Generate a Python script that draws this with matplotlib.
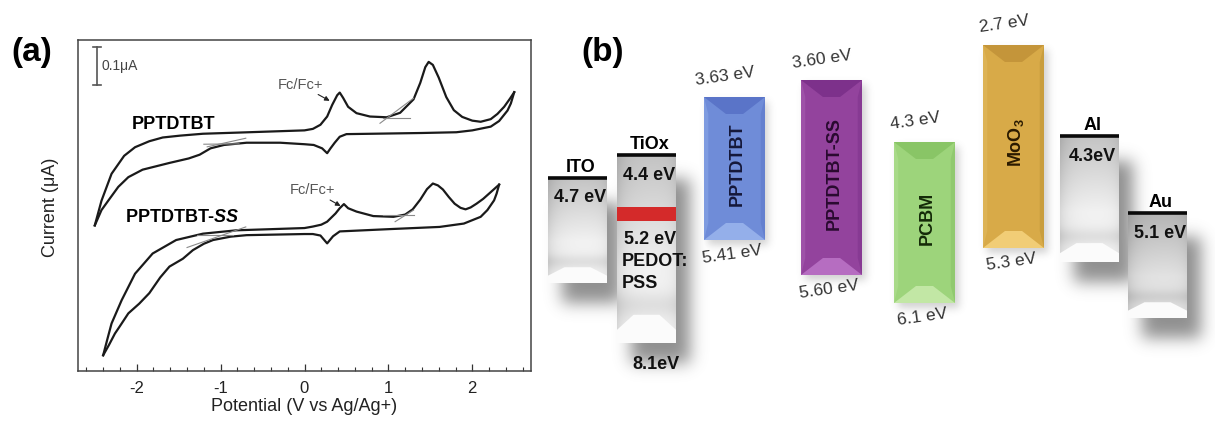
import numpy as np
import matplotlib
matplotlib.use('Agg')
import matplotlib.pyplot as plt
from matplotlib.patches import Polygon, Rectangle
from matplotlib.ticker import MultipleLocator

plt.rcParams['font.family'] = ['Liberation Sans', 'DejaVu Sans']
plt.rcParams['mathtext.fontset'] = 'custom'
plt.rcParams['mathtext.rm'] = 'Liberation Sans:bold'
plt.rcParams['mathtext.it'] = 'Liberation Sans:italic:bold'
plt.rcParams['mathtext.bf'] = 'Liberation Sans:bold'
plt.rcParams['axes.unicode_minus'] = False

# ---------------- data: panel (a) cyclic voltammograms ----------------
# PPTDTBT, forward (anodic) scan
p1_fwd_v = [-2.50, -2.42, -2.30, -2.15, -2.02, -1.85, -1.69, -1.48, -1.21, -0.80, -0.40, 0.00,
            0.10, 0.19, 0.27, 0.33, 0.39, 0.42, 0.46, 0.52, 0.62, 0.78, 0.98, 1.14, 1.30, 1.38,
            1.44, 1.48, 1.53, 1.60, 1.69, 1.78, 1.88, 2.00, 2.10, 2.22, 2.30, 2.38, 2.45, 2.50]
p1_fwd_i = [0.389, 0.455, 0.527, 0.575, 0.598, 0.614, 0.624, 0.629, 0.634, 0.637, 0.640, 0.643,
            0.647, 0.658, 0.680, 0.711, 0.737, 0.744, 0.730, 0.706, 0.689, 0.680, 0.678, 0.690,
            0.726, 0.770, 0.812, 0.826, 0.818, 0.784, 0.732, 0.697, 0.679, 0.669, 0.666, 0.673,
            0.687, 0.706, 0.728, 0.745]
# PPTDTBT, reverse (cathodic) scan
p1_rev_v = [2.50, 2.46, 2.42, 2.32, 2.22, 2.00, 1.81, 1.40, 0.81, 0.50, 0.42, 0.36, 0.31, 0.27,
            0.21, 0.11, 0.00, -0.29, -0.69, -0.96, -1.12, -1.25, -1.38, -1.61, -1.93, -2.10,
            -2.22, -2.34, -2.42, -2.50]
p1_rev_i = [0.745, 0.715, 0.696, 0.668, 0.653, 0.643, 0.638, 0.636, 0.634, 0.633, 0.626, 0.610,
            0.595, 0.582, 0.595, 0.604, 0.606, 0.610, 0.610, 0.604, 0.595, 0.578, 0.568, 0.556,
            0.538, 0.518, 0.492, 0.455, 0.430, 0.389]
# PPTDTBT-SS, forward scan
p2_fwd_v = [-2.40, -2.35, -2.30, -2.18, -2.02, -1.81, -1.53, -1.21, -0.81, -0.40, 0.00, 0.10,
            0.20, 0.27, 0.37, 0.42, 0.47, 0.52, 0.62, 0.82, 1.06, 1.20, 1.29, 1.38, 1.46, 1.53,
            1.59, 1.65, 1.72, 1.79, 1.86, 1.92, 1.98, 2.05, 2.13, 2.20, 2.27, 2.32]
p2_fwd_i = [0.042, 0.085, 0.127, 0.189, 0.260, 0.314, 0.350, 0.367, 0.376, 0.379, 0.382, 0.386,
            0.391, 0.399, 0.421, 0.435, 0.446, 0.435, 0.426, 0.414, 0.412, 0.418, 0.432, 0.458,
            0.486, 0.501, 0.496, 0.485, 0.465, 0.447, 0.436, 0.432, 0.437, 0.447, 0.460, 0.474,
            0.488, 0.498]
# PPTDTBT-SS, reverse scan
p2_rev_v = [2.32, 2.29, 2.26, 2.18, 2.10, 1.90, 1.61, 1.00, 0.42, 0.34, 0.27, 0.19, 0.10, 0.00,
            -0.69, -0.88, -1.09, -1.20, -1.33, -1.45, -1.61, -1.72, -1.85, -1.97, -2.10, -2.20,
            -2.26, -2.33, -2.40]
p2_rev_i = [0.498, 0.474, 0.456, 0.430, 0.412, 0.394, 0.385, 0.379, 0.373, 0.360, 0.341, 0.362,
            0.366, 0.366, 0.363, 0.359, 0.350, 0.340, 0.323, 0.300, 0.279, 0.250, 0.208, 0.180,
            0.154, 0.120, 0.100, 0.070, 0.042]
# onset construction lines (start V, end V, start I, end I)
onset_v0 = [-1.16, -1.20, 0.90, 0.94, -1.40, -1.28, 1.08, 0.94]
onset_v1 = [-0.70, -0.78, 1.30, 1.26, -0.70, -0.85, 1.30, 1.30]
onset_i0 = [0.599, 0.606, 0.662, 0.677, 0.330, 0.363, 0.399, 0.417]
onset_i1 = [0.622, 0.607, 0.729, 0.677, 0.385, 0.363, 0.430, 0.417]

# ---------------- data: panel (b) energy levels ----------------
elec_names = ['ITO', 'TiOx', 'Al', 'Au']
elec_labels = ['4.7 eV', '4.4 eV', '4.3eV', '5.1 eV']
elec_level = [4.70, 4.47, 4.28, 5.05]      # schematic drawn level
elec_bottom = [5.75, 6.35, 5.54, 6.10]     # schematic box end
mat_names = ['PPTDTBT', 'PPTDTBT-SS', 'PCBM', r'MoO$_{\mathrm{3}}$']
lumo_labels = ['3.63 eV', '3.60 eV', '4.3 eV', '2.7 eV']
homo_labels = ['5.41 eV', '5.60 eV', '6.1 eV', '5.3 eV']
lumo_draw = [3.89, 3.72, 4.34, 3.37]       # schematic drawn top
homo_draw = [5.32, 5.67, 5.95, 5.40]       # schematic drawn bottom
pedot_label = '5.2 eV'
pedot_draw = [4.99, 5.13]
tiox_vb_label = '8.1eV'

# ---------------- layout / style ----------------
elec_left = [0.13, 0.82, 5.25, 5.93]
elec_w = 0.59
elec_dark = [0.0, 0.0, 0.0, 0.06]
mat_left = [1.69, 2.66, 3.59, 4.48]
mat_w = 0.61
mat_face = ['#6f8cd8', '#93439d', '#9dd47b', '#d8aa48']
mat_dark = ['#5a74c8', '#7d318b', '#89c566', '#c4953a']
mat_light = ['#94afea', '#b66dc1', '#c2e7a5', '#f1cd76']
mat_sidel = ['#7e9be0', '#9e52a8', '#a8da88', '#ddb355']
mat_sider = ['#6480cf', '#873a93', '#90c96f', '#c99e3e']
mat_text = ['#15183a', '#2a0a30', '#142a08', '#2a1a00']

W_PX, H_PX = 1215, 421
fig = plt.figure(figsize=(W_PX / 100, H_PX / 100), dpi=100)

# ================= panel (a) =================
ax = fig.add_axes([78 / W_PX, (H_PX - 371) / H_PX, (531 - 78) / W_PX, (371 - 40) / H_PX])
lc = '#1a1a1a'
for xs, ys in [(p1_fwd_v, p1_fwd_i), (p1_rev_v, p1_rev_i), (p2_fwd_v, p2_fwd_i), (p2_rev_v, p2_rev_i)]:
    ax.plot(xs, ys, color=lc, lw=1.6, solid_joinstyle='round')
for a0, a1, b0, b1 in zip(onset_v0, onset_v1, onset_i0, onset_i1):
    ax.plot([a0, a1], [b0, b1], color='#8a8a8a', lw=0.8)

ax.set_xlim(-2.70, 2.70)
ax.set_ylim(0, 0.8845)
ax.set_yticks([])
ax.xaxis.set_major_locator(MultipleLocator(1))
ax.xaxis.set_minor_locator(MultipleLocator(0.2))
ax.tick_params(axis='x', which='both', direction='in', top=False, colors='#333333',
               labelcolor='#222222', labelsize=12, pad=7.5)
ax.tick_params(axis='x', which='major', length=5, width=0.9)
ax.tick_params(axis='x', which='minor', length=3, width=0.8)
for s in ax.spines.values():
    s.set_color('#444444')
    s.set_linewidth(1.1)
ax.set_xlabel('Potential (V vs Ag/Ag+)', fontsize=13, color='#222222')
ax.xaxis.set_label_coords(0.499, -0.082)
ax.set_ylabel('Current (\u03bcA)', fontsize=13, color='#222222')
ax.yaxis.set_label_coords(-0.042, 0.495)

# scale bar
sb_x, sb_lo, sb_hi = -2.47, 0.765, 0.865
ax.plot([sb_x, sb_x], [sb_lo, sb_hi], color='#555555', lw=1.2)
ax.plot([sb_x - 0.05, sb_x + 0.05], [sb_lo, sb_lo], color='#555555', lw=1.2)
ax.plot([sb_x - 0.05, sb_x + 0.05], [sb_hi, sb_hi], color='#555555', lw=1.2)
ax.text(sb_x + 0.05, 0.815, '0.1\u03bcA', fontsize=10, color='#444444', va='center', ha='left')

ax.text(-1.56, 0.659, 'PPTDTBT', fontsize=13, fontweight='bold', ha='center', va='center')
ax.text(-1.46, 0.410, r'PPTDTBT-$\mathit{SS}$', fontsize=13, fontweight='bold',
        ha='center', va='center')

arrow = dict(arrowstyle='-|>', color='#222222', lw=0.8, mutation_scale=7, shrinkA=0, shrinkB=0)
ax.annotate('Fc/Fc+', xy=(0.30, 0.722), xytext=(-0.05, 0.765), fontsize=10.5, color='#555555',
            ha='center', va='center', arrowprops=arrow)
ax.annotate('Fc/Fc+', xy=(0.43, 0.441), xytext=(0.10, 0.483), fontsize=10.5, color='#555555',
            ha='center', va='center', arrowprops=arrow)

fig.text(32 / W_PX, 1 - 52 / H_PX, '(a)', fontsize=24, fontweight='bold', ha='center', va='center')
fig.text(603 / W_PX, 1 - 52 / H_PX, '(b)', fontsize=24, fontweight='bold', ha='center', va='center')

# ================= panel (b) =================
ax2 = fig.add_axes([535 / W_PX, 0, 680 / W_PX, 1])
ax2.axis('off')
XMAX, YTOP, YBOT = 6.8, 2.92, 7.13


def blur(a, s):
    r = int(3 * s)
    k = np.exp(-0.5 * (np.arange(-r, r + 1) / s) ** 2)
    k /= k.sum()
    a = np.apply_along_axis(lambda m: np.convolve(m, k, mode='same'), 0, a)
    a = np.apply_along_axis(lambda m: np.convolve(m, k, mode='same'), 1, a)
    return a


ny, nx = 421, 680


def rect_mask(L, R, T, B, dx, dy):
    m = np.zeros((ny, nx))
    c0, c1 = int(L * 100 + dx), int(R * 100 + dx)
    r0, r1 = int((T - YTOP) * 100 + dy), int((B - YTOP) * 100 + dy)
    m[max(r0, 0):min(r1, ny), max(c0, 0):min(c1, nx)] = 1.0
    return m


sh_e = np.zeros((ny, nx))
for L, T, B in zip(elec_left, elec_level, elec_bottom):
    sh_e += rect_mask(L, L + elec_w, T + 0.05, B, 14, 20)
sh_e = np.clip(blur(np.clip(sh_e, 0, 1), 8), 0, 1)
sh_b = np.zeros((ny, nx))
for L, T, B in zip(mat_left, lumo_draw, homo_draw):
    sh_b += rect_mask(L, L + mat_w, T, B, 4, 5)
sh_b = np.clip(blur(np.clip(sh_b, 0, 1), 4), 0, 1)
alpha = np.maximum(sh_e * 0.68, sh_b * 0.28)
rgba = np.zeros((ny, nx, 4))
rgba[..., :3] = 0.36
rgba[..., 3] = alpha
ax2.imshow(rgba, extent=(0, XMAX, YBOT, YTOP), aspect='auto', zorder=1, interpolation='bilinear')

# electrode boxes
for name, lab, L, T, B, dk in zip(elec_names, elec_labels, elec_left, elec_level, elec_bottom, elec_dark):
    R = L + elec_w
    h = B - T
    t = np.linspace(0, 1, 120)[:, None]
    u = np.linspace(0, 1, 60)[None, :]
    v = 0.77 + 0.18 * np.clip(t / 0.6, 0, 1)
    v = v - 0.10 * np.exp(-u / 0.15) - 0.05 * np.exp(-(1 - u) / 0.1)
    v = v - 0.07 * np.exp(-((t - 0.8) / 0.07) ** 2) - dk
    v = np.clip(v, 0, 1)
    img = np.dstack([v, v, v])
    ax2.imshow(img, extent=(L, R, B, T), aspect='auto', zorder=2, interpolation='bilinear')
    poly = [(L, B - 0.07 * h), (L + 0.28 * elec_w, B - 0.15 * h), (R - 0.28 * elec_w, B - 0.15 * h),
            (R, B - 0.07 * h), (R, B), (L, B)]
    ax2.add_patch(Polygon(poly, closed=True, fc='#fbfbfb', ec='none', zorder=3))
    ax2.plot([L, R], [T, T], color='#0a0a0a', lw=2.6, solid_capstyle='butt', zorder=4)
    cx = L + elec_w / 2
    ax2.text(cx + 0.03, T - 0.06, name, fontsize=13, fontweight='bold', ha='center',
             va='baseline', zorder=5)
    ax2.text(cx + 0.03, T + 0.245, lab, fontsize=13, fontweight='bold', ha='center',
             va='baseline', color='#111111', zorder=5)

# PEDOT:PSS level on TiOx column
tl = elec_left[1]
ax2.add_patch(Rectangle((tl, pedot_draw[0]), elec_w, pedot_draw[1] - pedot_draw[0],
                        fc='#d42a2a', ec='none', zorder=4))
ax2.text(tl + 0.07, pedot_draw[1] + 0.23, pedot_label, fontsize=13, fontweight='bold',
         ha='left', va='baseline', color='#111111', zorder=5)
ax2.text(tl + 0.05, pedot_draw[1] + 0.45, 'PEDOT:', fontsize=13, fontweight='bold',
         ha='left', va='baseline', color='#111111', zorder=5)
ax2.text(tl + 0.05, pedot_draw[1] + 0.67, 'PSS', fontsize=13, fontweight='bold',
         ha='left', va='baseline', color='#111111', zorder=5)
ax2.text(tl + elec_w / 2 + 0.09, elec_bottom[1] + 0.26, tiox_vb_label, fontsize=13,
         fontweight='bold', ha='center', va='baseline', color='#111111', zorder=5)

# bevelled material bars
for i, (name, lt, lb, L, T, B) in enumerate(zip(mat_names, lumo_labels, homo_labels,
                                                mat_left, lumo_draw, homo_draw)):
    R = L + mat_w
    h = B - T
    ax2.add_patch(Rectangle((L, T), mat_w, h, fc=mat_face[i], ec='none', zorder=2))
    bs = 0.07 * mat_w
    by = 0.17
    bx = 0.36 * mat_w
    ax2.add_patch(Polygon([(L, T), (L + bs, T + by), (L + bs, B - by), (L, B)],
                          fc=mat_sidel[i], ec='none', zorder=3))
    ax2.add_patch(Polygon([(R, T), (R - bs, T + by), (R - bs, B - by), (R, B)],
                          fc=mat_sider[i], ec='none', zorder=3))
    ax2.add_patch(Polygon([(L, T), (R, T), (R - bx, T + by), (L + bx, T + by)],
                          fc=mat_dark[i], ec='none', zorder=3))
    ax2.add_patch(Polygon([(L, B), (R, B), (R - bx, B - by), (L + bx, B - by)],
                          fc=mat_light[i], ec='none', zorder=3))
    cx = L + mat_w / 2
    ax2.text(cx + 0.03, (T + B) / 2 - 0.04, name, rotation=90, fontsize=13, fontweight='bold',
             ha='center', va='center', color=mat_text[i], zorder=5)
    ax2.text(cx - 0.09, T - 0.21, lt, rotation=8, fontsize=12.5, ha='center', va='center',
             color='#333333', zorder=5)
    ax2.text(cx - 0.02, B + 0.14, lb, rotation=8, fontsize=12.5, ha='center', va='center',
             color='#333333', zorder=5)

ax2.set_xlim(0, XMAX)
ax2.set_ylim(YBOT, YTOP)

fig.savefig('out.png', dpi=100)
